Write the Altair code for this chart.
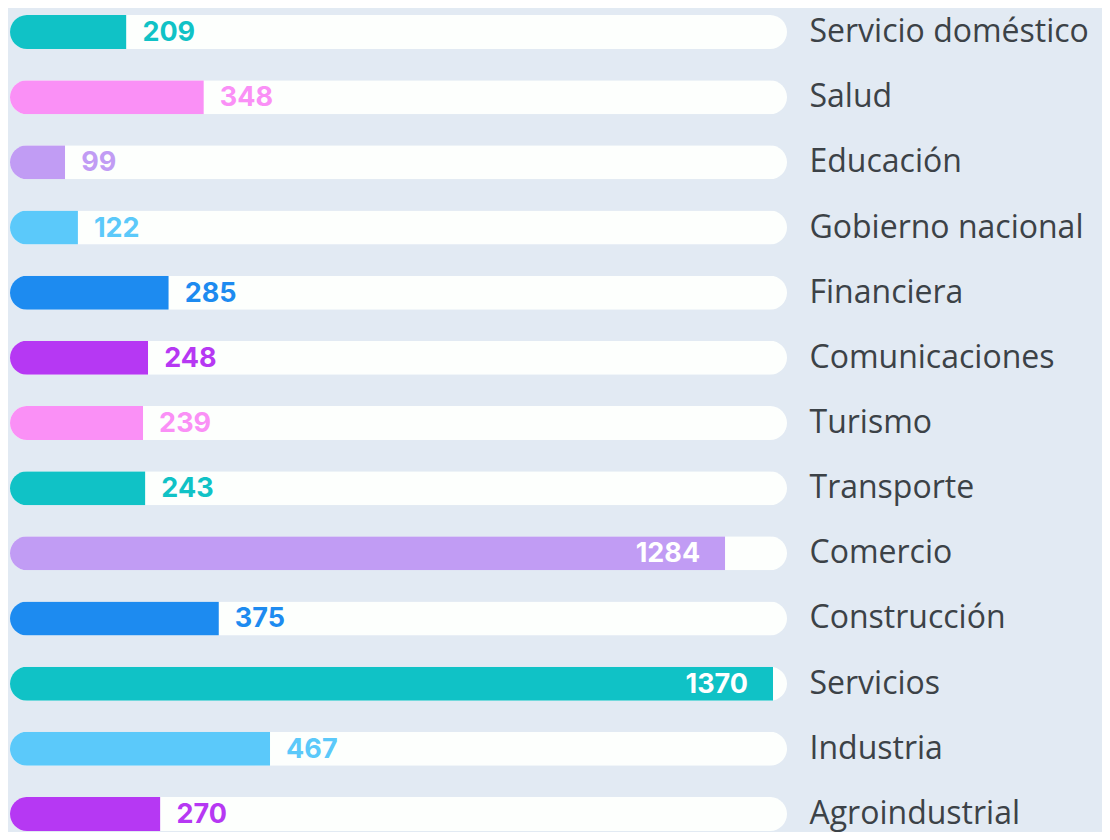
import altair as alt
import pandas as pd

categories = [
    "Servicio doméstico", "Salud", "Educación", "Gobierno nacional", "Financiera",
    "Comunicaciones", "Turismo", "Transporte", "Comercio", "Construcción",
    "Servicios", "Industria", "Agroindustrial",
]
values = [209, 348, 99, 122, 285, 248, 239, 243, 1284, 375, 1370, 467, 270]

TEAL = "#10c2c6"
PINK = "#fa90f6"
LAV = "#c19cf4"
LBLUE = "#5bc9fa"
BLUE = "#1d8bf0"
PURPLE = "#b638f3"
bar_colors = [TEAL, PINK, LAV, LBLUE, BLUE, PURPLE, PINK, TEAL, LAV, BLUE, TEAL, LBLUE, PURPLE]

AXIS_MAX = 1395
INSIDE_THRESHOLD = 1000

df = pd.DataFrame({"category": categories, "value": values})

yenc = alt.Y(
    "category:N",
    sort=categories,
    scale=alt.Scale(paddingInner=0.478, paddingOuter=0.0767, range=[2, 828]),
    axis=alt.Axis(
        orient="right", domain=False, ticks=False, grid=False, title=None,
        labelPadding=22, labelAlign="left", labelBaseline="middle",
        labelFont="Open Sans", labelFontSize=32, labelColor="#3c4247",
        labelLimit=400,
    ),
)
xscale = alt.Scale(domain=[0, AXIS_MAX], nice=False, zero=True)
color = alt.Color("category:N", scale=alt.Scale(domain=categories, range=bar_colors), legend=None)

base = alt.Chart(df)

track = base.mark_bar(cornerRadius=17, color="#fdfffd").encode(
    y=yenc,
    x=alt.X("value:Q", scale=xscale, axis=None),
).transform_calculate(value=str(AXIS_MAX))

bars = base.mark_bar(cornerRadiusTopLeft=17, cornerRadiusBottomLeft=17).encode(
    y=alt.Y("category:N", sort=categories),
    x=alt.X("value:Q", scale=xscale, axis=None),
    color=color,
)

outside = base.mark_text(
    align="left", baseline="middle", dx=16, dy=1,
    font="Inter", fontWeight="bold", fontSize=27,
).encode(
    y=alt.Y("category:N", sort=categories),
    x=alt.X("value:Q", scale=xscale, axis=None),
    text="value:Q",
    color=color,
).transform_filter(f"datum.value < {INSIDE_THRESHOLD}")

inside = base.mark_text(
    align="right", baseline="middle", dx=-25, dy=1,
    font="Inter", fontWeight="bold", fontSize=27, color="white",
).encode(
    y=alt.Y("category:N", sort=categories),
    x=alt.X("value:Q", scale=xscale, axis=None),
    text="value:Q",
).transform_filter(f"datum.value >= {INSIDE_THRESHOLD}")

chart = alt.layer(track, bars, outside, inside).properties(
    width=777,
    height=824,
    background="#e2eaf3",
    padding={"left": 2, "top": 0, "right": 315, "bottom": 0},
    autosize=alt.AutoSizeParams(type="none"),
).configure_view(stroke=None)

chart.save("out.html", embed_options={"renderer": "svg", "actions": False})
